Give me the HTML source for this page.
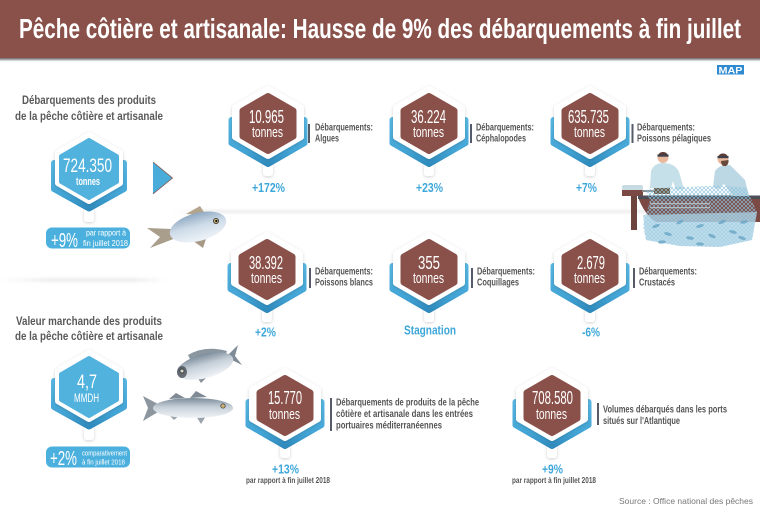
<!DOCTYPE html>
<html>
<head>
<meta charset="utf-8">
<style>
  html,body{margin:0;padding:0;background:#fff;}
  svg{display:block;}
  text{font-family:"Liberation Sans Narrow","Liberation Sans",sans-serif;}
</style>
</head>
<body>
<svg width="760" height="512" viewBox="0 0 760 512" xmlns="http://www.w3.org/2000/svg">
  <defs>
    <linearGradient id="gb" x1="0" y1="0" x2="0" y2="1">
      <stop offset="0" stop-color="#58b7e2"/>
      <stop offset="0.7" stop-color="#43a5d6"/>
      <stop offset="1" stop-color="#2f8bbd"/>
    </linearGradient>
    <linearGradient id="tsh" x1="0" y1="0" x2="0" y2="1">
      <stop offset="0" stop-color="#333" stop-opacity="0.75"/>
      <stop offset="1" stop-color="#333" stop-opacity="0"/>
    </linearGradient>
    <linearGradient id="hsep" x1="0" y1="0" x2="1" y2="0">
      <stop offset="0" stop-color="#bbb" stop-opacity="0"/>
      <stop offset="0.06" stop-color="#bbb" stop-opacity="0.45"/>
      <stop offset="1" stop-color="#bbb" stop-opacity="0.45"/>
    </linearGradient>
    <linearGradient id="lsep" x1="0" y1="0" x2="1" y2="0">
      <stop offset="0" stop-color="#bbb" stop-opacity="0"/>
      <stop offset="0.3" stop-color="#bbb" stop-opacity="0.5"/>
      <stop offset="0.8" stop-color="#bbb" stop-opacity="0.5"/>
      <stop offset="1" stop-color="#bbb" stop-opacity="0"/>
    </linearGradient>
    <linearGradient id="fg1" x1="0" y1="0" x2="0" y2="1">
      <stop offset="0" stop-color="#8fa9c2"/>
      <stop offset="0.45" stop-color="#cddbe8"/>
      <stop offset="1" stop-color="#eef3f8"/>
    </linearGradient>
    <linearGradient id="fg2" x1="0" y1="0" x2="0" y2="1">
      <stop offset="0" stop-color="#7c8c9a"/>
      <stop offset="0.45" stop-color="#c6d0d9"/>
      <stop offset="1" stop-color="#f1f4f7"/>
    </linearGradient>
    <pattern id="mesh" width="4" height="4" patternUnits="userSpaceOnUse">
      <path d="M0,0 L4,4 M4,0 L0,4" stroke="#8ec3dc" stroke-width="0.7"/>
    </pattern>
    <filter id="sh" x="-30%" y="-30%" width="160%" height="160%">
      <feDropShadow dx="0" dy="1" stdDeviation="1.6" flood-color="#000" flood-opacity="0.18"/>
    </filter>
    <filter id="blur1" x="-5%" y="-300%" width="110%" height="700%">
      <feGaussianBlur stdDeviation="1.5"/>
    </filter>

    <g id="sb">
      <rect x="-5" y="37" width="10" height="14" rx="3" fill="#fff" filter="url(#sh)"/>
      <path d="M-36.5,-5 L36.5,-5 L36.5,18 L0,39 L-36.5,18 Z" fill="url(#gb)" stroke="url(#gb)" stroke-width="6" stroke-linejoin="round"/>
      <polygon points="0,-35.5 32.5,-16.7 32.5,11.7 0,30.5 -32.5,11.7 -32.5,-16.7" fill="#fff" stroke="#fff" stroke-width="7" stroke-linejoin="round" filter="url(#sh)"/>
      <polygon points="0,-28.5 25,-14.1 25,11.1 0,25.5 -25,11.1 -25,-14.1" fill="#8a514a" stroke="#8a514a" stroke-width="7" stroke-linejoin="round"/>
    </g>

    <g id="lb">
      <rect x="-5" y="39" width="10" height="14" rx="3" fill="#fff" filter="url(#sh)"/>
      <path d="M-35,-6 L35,-6 L35,20 L0,39.5 L-35,20 Z" fill="url(#gb)" stroke="url(#gb)" stroke-width="6" stroke-linejoin="round"/>
      <polygon points="0,-33.5 30.5,-15.9 30.5,13.9 0,31.5 -30.5,13.9 -30.5,-15.9" fill="#fff" stroke="#fff" stroke-width="7" stroke-linejoin="round" filter="url(#sh)"/>
      <polygon points="0,-29 28,-12.8 28,12.8 0,29 -28,12.8 -28,-12.8" fill="#52b2de" stroke="#52b2de" stroke-width="4" stroke-linejoin="round"/>
    </g>
  </defs>

  <rect x="0" y="0" width="760" height="512" fill="#fff"/>

  <!-- Title bar -->
  <rect x="0" y="0" width="760" height="58" fill="#8a514a"/>
  <rect x="0" y="58" width="760" height="3.5" fill="url(#tsh)"/>
  <text x="19" y="38" font-size="28" font-weight="bold" fill="#fff" textLength="722" lengthAdjust="spacingAndGlyphs">Pêche côtière et artisanale: Hausse de 9% des débarquements à fin juillet</text>

  <!-- MAP logo -->
  <rect x="717" y="65" width="27" height="9.5" fill="#2f8ad0"/>
  <text x="718.5" y="73.3" font-size="9" font-weight="bold" fill="#fff" textLength="24" lengthAdjust="spacingAndGlyphs" font-family="Liberation Sans, sans-serif">MAP</text>

  <!-- separators -->
  <rect x="172" y="210.5" width="588" height="2" fill="url(#hsep)" filter="url(#blur1)"/>
  <rect x="0" y="279" width="168" height="2" fill="url(#lsep)" filter="url(#blur1)"/>

  <!-- Left headings -->
  <g fill="#5a5a5a" font-size="12" font-weight="bold">
    <text x="22" y="104" textLength="134" lengthAdjust="spacingAndGlyphs">Débarquements des produits</text>
    <text x="15" y="120" textLength="148" lengthAdjust="spacingAndGlyphs">de la pêche côtière et artisanale</text>
    <text x="16" y="325" textLength="146" lengthAdjust="spacingAndGlyphs">Valeur marchande des produits</text>
    <text x="15" y="340" textLength="148" lengthAdjust="spacingAndGlyphs">de la pêche côtière et artisanale</text>
  </g>

  <!-- Left badges -->
  <use href="#lb" x="89" y="169"/>
  <text x="63" y="172" font-size="19.5" fill="#fff" textLength="49" lengthAdjust="spacingAndGlyphs">724.350</text>
  <text x="76" y="185" font-size="11" font-weight="bold" fill="#fff" textLength="24" lengthAdjust="spacingAndGlyphs">tonnes</text>

  <use href="#lb" x="89" y="387"/>
  <text x="77" y="388" font-size="19.5" fill="#fff" textLength="20" lengthAdjust="spacingAndGlyphs">4,7</text>
  <text x="74" y="402" font-size="11.5" fill="#fff" textLength="25" lengthAdjust="spacingAndGlyphs">MMDH</text>

  <!-- Pills -->
  <rect x="46" y="227.5" width="84" height="21" rx="6" fill="#4bb0dd"/>
  <text x="51" y="247" font-size="20" fill="#fff" textLength="27" lengthAdjust="spacingAndGlyphs">+9%</text>
  <text x="86" y="235.5" font-size="8" fill="#fff" textLength="40" lengthAdjust="spacingAndGlyphs">par rapport à</text>
  <text x="83" y="246" font-size="8" fill="#fff" textLength="45" lengthAdjust="spacingAndGlyphs">fin juillet 2018</text>

  <rect x="46" y="446.5" width="84" height="21" rx="6" fill="#4bb0dd"/>
  <text x="50" y="465" font-size="20" fill="#fff" textLength="27" lengthAdjust="spacingAndGlyphs">+2%</text>
  <text x="82" y="455.5" font-size="7" fill="#fff" textLength="45" lengthAdjust="spacingAndGlyphs">comparativement</text>
  <text x="82" y="464.5" font-size="7" fill="#fff" textLength="43" lengthAdjust="spacingAndGlyphs">à fin juillet 2018</text>

  <!-- Arrow -->
  <polygon points="153,162 172.5,178 153,194" fill="#49acd9"/>
  <polyline points="153,162 172.5,178 153,194" fill="none" stroke="#8a514a" stroke-width="0.8"/>

  <!-- Fish: pomfret -->
  <path d="M172,229 L147,228 L160,237 L150,248 L176,238 Z" fill="#a99d8b"/>
  <path d="M186,214 L200,206 L206,215 Z" fill="#b3a48d"/>
  <path d="M189,238 L203,248 L207,236 Z" fill="#a89986"/>
  <ellipse cx="198" cy="227" rx="29" ry="14" transform="rotate(-15 198 227)" fill="url(#fg1)"/>
  <circle cx="216" cy="221" r="2.6" fill="#c8b36d" stroke="#333" stroke-width="0.8"/>
  <circle cx="216.3" cy="221" r="1.1" fill="#111"/>

  <!-- Fish: sea bream -->
  <path d="M226,357 L238,345 L235,356 L242,365 Z" fill="#7f8b96"/>
  <path d="M188,355 Q205,345 227,351 L225,356 Q205,351 190,359 Z" fill="#8a96a0"/>
  <path d="M196,376 L201,383 L207,377 Z" fill="#8a939c"/>
  <ellipse cx="205" cy="366" rx="29" ry="12" transform="rotate(-15 205 366)" fill="url(#fg2)"/>
  <ellipse cx="182" cy="372" rx="5" ry="6" fill="#3f454c" opacity="0.75"/>
  <circle cx="182" cy="371" r="2" fill="#d8d8d0" stroke="#222" stroke-width="0.7"/>

  <!-- Fish: sea bass -->
  <path d="M158,404 L143,396 L148,408 L143,421 L158,412 Z" fill="#8d969e"/>
  <path d="M169,399 L176,393 L185,398 Z" fill="#808a94"/>
  <path d="M190,398 L196,391 L207,397 Z" fill="#808a94"/>
  <path d="M168,414 L174,420 L180,415 Z" fill="#9aa2aa"/>
  <path d="M196,416 L201,424 L206,416 Z" fill="#9aa2aa"/>
  <ellipse cx="193" cy="408" rx="40" ry="10" fill="url(#fg2)"/>
  <circle cx="223" cy="406" r="2.2" fill="#c9b070" stroke="#333" stroke-width="0.7"/>

  <!-- Fishermen illustration -->
  <g>
    <rect x="622" y="185" width="21" height="6" rx="2" fill="#c8dbe3"/>
    <rect x="622" y="190" width="21" height="6" fill="#7a4943"/>
    <rect x="631" y="196" width="6" height="34" fill="#6e443f"/>
    <rect x="642" y="190" width="12" height="2" fill="#8a8a8a"/>
    <path d="M638,197 L760,197 L760,222 L656,222 Q644,214 638,197 Z" fill="#7b4a44"/>
    <rect x="638" y="195.5" width="122" height="3.5" fill="#4c4f58"/>
    <rect x="650" y="203" width="60" height="1.2" fill="#e0d2cf" opacity="0.8"/>
    <rect x="650" y="207" width="60" height="1.2" fill="#e0d2cf" opacity="0.8"/>
    <!-- man 1 -->
    <rect x="654" y="185" width="16" height="9" fill="#6f5238"/>
    <path d="M650,188 L651,171 Q654,163 663,163 Q675,163 679,172 L684,189 L676,190 L673,181 L671,188 Z" fill="#c6e0ea"/>
    <circle cx="663" cy="157.5" r="5.5" fill="#e8b99d"/>
    <path d="M657.5,157.5 A5.5,5.5 0 0 1 668.5,157.5 L668.5,155.5 L657.5,155.5 Z" fill="#5a3b37"/>
    <rect x="657.5" y="154.5" width="11" height="2.2" fill="#3e3f4a"/>
    <!-- man 2 -->
    <path d="M715,171 Q720,164 730,165 L745,180 L749,196 L733,196 L724,184 L718,189 L713,187 Z" fill="#bcd8e4"/>
    <circle cx="723" cy="159" r="5.5" fill="#e8b99d"/>
    <path d="M717.5,159 A5.5,5.5 0 0 1 728.5,159 L728.5,157 L717.5,157 Z" fill="#5a3b37"/>
    <rect x="717.5" y="156" width="11" height="2.2" fill="#3e3f4a"/>
    <path d="M721,161 Q721,167 726,166 Q729,164 728.5,160 Z" fill="#6a4a3a"/>
    <!-- net -->
    <path d="M645,190 Q668,186 690,187 Q720,184 746,188 L757,212 L752,240 L720,247 L680,246 L646,240 L643,226 L650,200 Z" fill="url(#mesh)" opacity="0.9"/>
    <path d="M643,215 L757,212 L752,240 L720,247 L680,246 L646,240 Z" fill="#a9d3e6" opacity="0.75"/>
    <g fill="#6ea8c7" opacity="0.85">
      <ellipse cx="656" cy="226" rx="4" ry="1.6" transform="rotate(-20 656 226)"/>
      <ellipse cx="668" cy="234" rx="4" ry="1.6" transform="rotate(15 668 234)"/>
      <ellipse cx="680" cy="222" rx="4" ry="1.6" transform="rotate(-30 680 222)"/>
      <ellipse cx="690" cy="238" rx="4" ry="1.6" transform="rotate(10 690 238)"/>
      <ellipse cx="700" cy="226" rx="4" ry="1.6" transform="rotate(-15 700 226)"/>
      <ellipse cx="712" cy="236" rx="4" ry="1.6" transform="rotate(25 712 236)"/>
      <ellipse cx="722" cy="222" rx="4" ry="1.6" transform="rotate(-25 722 222)"/>
      <ellipse cx="733" cy="232" rx="4" ry="1.6" transform="rotate(15 733 232)"/>
      <ellipse cx="744" cy="222" rx="4" ry="1.6" transform="rotate(-10 744 222)"/>
      <ellipse cx="742" cy="238" rx="4" ry="1.6" transform="rotate(20 742 238)"/>
      <ellipse cx="662" cy="242" rx="4" ry="1.6" transform="rotate(-5 662 242)"/>
      <ellipse cx="700" cy="244" rx="4" ry="1.6" transform="rotate(5 700 244)"/>
    </g>
  </g>

  <!-- Row 1 badges -->
  <use href="#sb" x="268" y="125"/>
  <use href="#sb" x="429" y="125"/>
  <use href="#sb" x="590" y="125"/>
  <!-- Row 2 badges -->
  <use href="#sb" x="267" y="271"/>
  <use href="#sb" x="429" y="271"/>
  <use href="#sb" x="590" y="271"/>
  <!-- Row 3 badges -->
  <use href="#sb" x="285" y="407"/>
  <use href="#sb" x="552" y="407"/>

  <!-- badge numbers -->
  <g fill="#fff" font-size="18">
    <text x="249" y="123" textLength="35" lengthAdjust="spacingAndGlyphs">10.965</text>
    <text x="411" y="123" textLength="35" lengthAdjust="spacingAndGlyphs">36.224</text>
    <text x="568" y="123" textLength="41" lengthAdjust="spacingAndGlyphs">635.735</text>
    <text x="249" y="269" textLength="34" lengthAdjust="spacingAndGlyphs">38.392</text>
    <text x="418" y="269" textLength="22" lengthAdjust="spacingAndGlyphs">355</text>
    <text x="577" y="269" textLength="28" lengthAdjust="spacingAndGlyphs">2.679</text>
    <text x="268" y="404" textLength="34" lengthAdjust="spacingAndGlyphs">15.770</text>
    <text x="532" y="404" textLength="41" lengthAdjust="spacingAndGlyphs">708.580</text>
  </g>
  <g fill="#fff" font-size="14.5">
    <text x="252" y="137" textLength="31" lengthAdjust="spacingAndGlyphs">tonnes</text>
    <text x="413" y="137" textLength="31" lengthAdjust="spacingAndGlyphs">tonnes</text>
    <text x="574" y="137" textLength="31" lengthAdjust="spacingAndGlyphs">tonnes</text>
    <text x="251" y="283" textLength="31" lengthAdjust="spacingAndGlyphs">tonnes</text>
    <text x="413" y="283" textLength="31" lengthAdjust="spacingAndGlyphs">tonnes</text>
    <text x="574" y="283" textLength="31" lengthAdjust="spacingAndGlyphs">tonnes</text>
    <text x="269" y="419" textLength="31" lengthAdjust="spacingAndGlyphs">tonnes</text>
    <text x="536" y="419" textLength="31" lengthAdjust="spacingAndGlyphs">tonnes</text>
  </g>

  <!-- vertical bars -->
  <g fill="#565b6a">
    <rect x="308" y="124" width="2" height="19"/>
    <rect x="470" y="124" width="2" height="19"/>
    <rect x="631.5" y="124" width="2" height="19"/>
    <rect x="309" y="268" width="2" height="20"/>
    <rect x="471" y="268" width="2" height="20"/>
    <rect x="633" y="268" width="2" height="20"/>
    <rect x="330" y="398" width="2" height="33"/>
    <rect x="597" y="403" width="2" height="22"/>
  </g>

  <!-- labels -->
  <g fill="#555" font-size="10.5" font-weight="bold">
    <text x="315" y="130.5" textLength="58" lengthAdjust="spacingAndGlyphs">Débarquements:</text>
    <text x="315" y="141.5" textLength="24" lengthAdjust="spacingAndGlyphs">Algues</text>
    <text x="476" y="130.5" textLength="58" lengthAdjust="spacingAndGlyphs">Débarquements:</text>
    <text x="476" y="141.5" textLength="50" lengthAdjust="spacingAndGlyphs">Céphalopodes</text>
    <text x="637" y="130.5" textLength="58" lengthAdjust="spacingAndGlyphs">Débarquements:</text>
    <text x="637" y="141.5" textLength="74" lengthAdjust="spacingAndGlyphs">Poissons pélagiques</text>

    <text x="315" y="274.5" textLength="58" lengthAdjust="spacingAndGlyphs">Débarquements:</text>
    <text x="315" y="285.5" textLength="58" lengthAdjust="spacingAndGlyphs">Poissons blancs</text>
    <text x="477" y="274.5" textLength="58" lengthAdjust="spacingAndGlyphs">Débarquements:</text>
    <text x="477" y="285.5" textLength="42" lengthAdjust="spacingAndGlyphs">Coquillages</text>
    <text x="639" y="274.5" textLength="58" lengthAdjust="spacingAndGlyphs">Débarquements:</text>
    <text x="639" y="285.5" textLength="36" lengthAdjust="spacingAndGlyphs">Crustacés</text>

    <text x="336" y="405.5" textLength="143" lengthAdjust="spacingAndGlyphs">Débarquements de produits de la pêche</text>
    <text x="336" y="417" textLength="137" lengthAdjust="spacingAndGlyphs">côtière et artisanale dans les entrées</text>
    <text x="336" y="428.5" textLength="106" lengthAdjust="spacingAndGlyphs">portuaires méditerranéennes</text>

    <text x="603" y="412.5" textLength="124" lengthAdjust="spacingAndGlyphs">Volumes débarqués dans les ports</text>
    <text x="603" y="424" textLength="77" lengthAdjust="spacingAndGlyphs">situés sur l'Atlantique</text>
  </g>

  <!-- percents -->
  <g fill="#3ea7da" font-size="13" font-weight="bold" text-anchor="middle" font-family="Liberation Sans, sans-serif">
    <text x="268.5" y="192" textLength="33" lengthAdjust="spacingAndGlyphs">+172%</text>
    <text x="429.5" y="192" textLength="27" lengthAdjust="spacingAndGlyphs">+23%</text>
    <text x="586.5" y="192" textLength="21" lengthAdjust="spacingAndGlyphs">+7%</text>
    <text x="265.5" y="336.5" textLength="21" lengthAdjust="spacingAndGlyphs">+2%</text>
    <text x="430" y="334.5" textLength="52" lengthAdjust="spacingAndGlyphs">Stagnation</text>
    <text x="591" y="336.5" textLength="18" lengthAdjust="spacingAndGlyphs">-6%</text>
    <text x="285.5" y="473.5" textLength="27" lengthAdjust="spacingAndGlyphs">+13%</text>
    <text x="552.5" y="473.5" textLength="21" lengthAdjust="spacingAndGlyphs">+9%</text>
  </g>
  <g fill="#555" font-size="8" font-weight="bold" text-anchor="middle">
    <text x="288" y="483" textLength="84" lengthAdjust="spacingAndGlyphs">par rapport à fin juillet 2018</text>
    <text x="554" y="483" textLength="84" lengthAdjust="spacingAndGlyphs">par rapport à fin juillet 2018</text>
  </g>

  <!-- Source -->
  <text x="619" y="504" font-size="8.5" fill="#777" textLength="134" lengthAdjust="spacingAndGlyphs" font-family="Liberation Sans, sans-serif">Source : Office national des pêches</text>
</svg>
</body>
</html>
